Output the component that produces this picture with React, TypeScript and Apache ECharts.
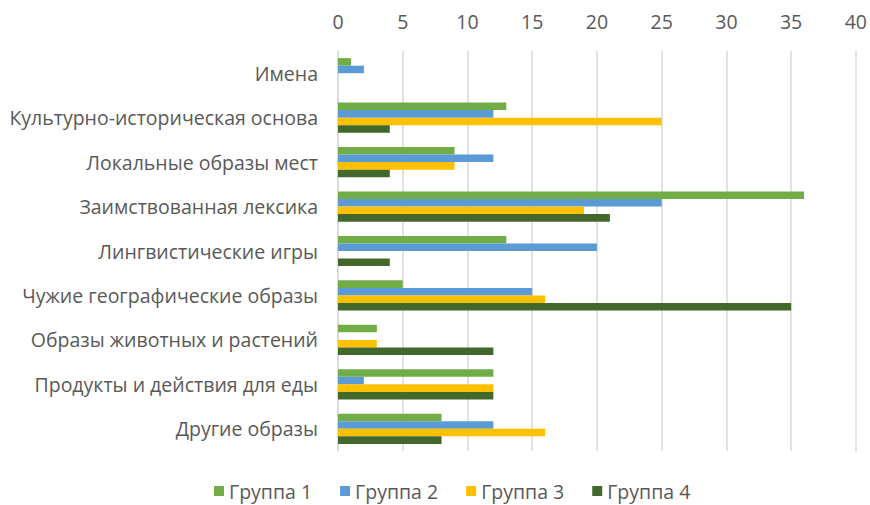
import React, { useEffect, useRef } from "react";
import * as echarts from "echarts";

const categories = [
  "Имена",
  "Культурно-историческая основа",
  "Локальные образы мест",
  "Заимствованная лексика",
  "Лингвистические игры",
  "Чужие географические образы",
  "Образы животных и растений",
  "Продукты и действия для еды",
  "Другие образы",
];
const seriesNames = ["Группа 1", "Группа 2", "Группа 3", "Группа 4"];
const group1 = [1, 13, 9, 36, 13, 5, 3, 12, 8];
const group2 = [2, 12, 12, 25, 20, 15, 0, 2, 12];
const group3 = [0, 25, 9, 19, 0, 16, 3, 12, 16];
const group4 = [0, 4, 4, 21, 4, 35, 12, 12, 8];
const colors = ["#70ad47", "#5b9bd5", "#ffc000", "#43682b"];
const xTicks = { min: 0, max: 40, interval: 5 };

export default function App() {
  const ref = useRef<HTMLDivElement>(null);
  useEffect(() => {
    if (!ref.current) return;
    const chart = echarts.init(ref.current, null, { renderer: "svg" });
    const data = [group1, group2, group3, group4];
    const font = "'Open Sans', 'Noto Sans', sans-serif";
    chart.setOption({
      animation: false,
      textStyle: { fontFamily: font },
      grid: { left: 338, right: 14, top: 51, bottom: 54, containLabel: false },
      legend: {
        bottom: -1,
        left: 209,
        itemWidth: 10,
        itemHeight: 10,
        itemGap: 28,
        icon: "rect",
        textStyle: { color: "#595959", fontSize: 19.5, fontFamily: font },
        data: seriesNames,
      },
      xAxis: {
        type: "value",
        position: "top",
        min: xTicks.min,
        max: xTicks.max,
        interval: xTicks.interval,
        axisLine: { show: false },
        axisTick: { show: false },
        axisLabel: { color: "#595959", fontSize: 19.5, margin: 20, fontFamily: font },
        splitLine: { lineStyle: { color: "#d9d9d9", width: 1.5 } },
      },
      yAxis: {
        type: "category",
        inverse: true,
        data: categories,
        axisLine: { show: true, lineStyle: { color: "#d9d9d9", width: 1.5 } },
        axisTick: { show: false },
        axisLabel: { color: "#595959", fontSize: 19.5, margin: 20, fontFamily: font },
      },
      series: seriesNames.map((name, i) => ({
        name,
        type: "bar",
        data: data[i],
        itemStyle: { color: colors[i] },
        barGap: "0%",
        barCategoryGap: "32%",
      })),
    });
    return () => chart.dispose();
  }, []);
  return <div ref={ref} style={{ width: 870, height: 505, position: "absolute", left: 0, top: 0 }} />;
}
